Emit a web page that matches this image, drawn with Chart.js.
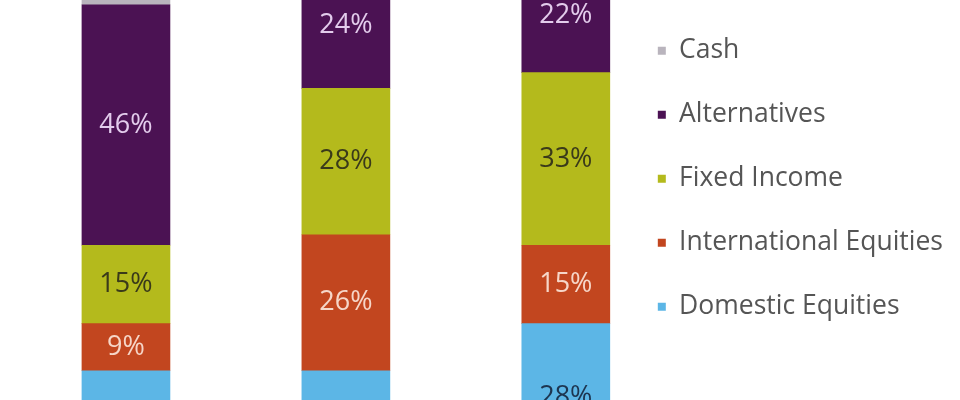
<!DOCTYPE html>
<html lang="en">
<head>
    <meta charset="UTF-8">
    <title>Asset Allocation</title>
    <script src="https://cdn.jsdelivr.net/npm/chart.js"></script>
    <style>
        body {
            margin: 0;
            background-color: #ffffff;
        }
        .container {
            width: 960px;
            height: 400px;
            position: relative;
        }
    </style>
</head>
<body>

    <div class="container">
        <canvas id="grafico"></canvas>
    </div>

    <script>
        // Portfolios (bars) and asset classes (stacked from the bottom up)
        const portfolios = ["Portfolio 1", "Portfolio 2", "Portfolio 3"];
        const domesticEquities = [19, 19, 28];
        const internationalEquities = [9, 26, 15];
        const fixedIncome = [15, 28, 33];
        const alternatives = [46, 24, 22];
        const cash = [11, 3, 2];

        const seriesNames = ["Domestic Equities", "International Equities", "Fixed Income", "Alternatives", "Cash"];
        const seriesValues = [domesticEquities, internationalEquities, fixedIncome, alternatives, cash];
        const seriesColors = ["#5cb6e6", "#c2461f", "#b4ba1c", "#4b1253", "#b9b4bd"];
        const labelColors = ["#1d3550", "#f6d6c8", "#3a3a1a", "#e3ccec", "#555555"];

        // percentage labels in the middle of each segment
        const segmentLabels = {
            id: "segmentLabels",
            afterDatasetsDraw(chart) {
                const ctx = chart.ctx;
                ctx.save();
                ctx.font = "27px 'Open Sans'";
                ctx.textAlign = "center";
                ctx.textBaseline = "middle";
                chart.data.datasets.forEach((ds, i) => {
                    chart.getDatasetMeta(i).data.forEach((bar, j) => {
                        ctx.fillStyle = labelColors[i];
                        ctx.fillText(seriesValues[i][j] + "%", bar.x, (bar.y + bar.base) / 2);
                    });
                });
                ctx.restore();
            }
        };

        let ctx = document.getElementById("grafico").getContext("2d");
        let grafico = new Chart(ctx, {
            type: "bar",
            data: {
                labels: portfolios,
                datasets: seriesNames.map((name, i) => ({
                    label: name,
                    data: seriesValues[i].map((v, j) => ({ x: j, y: v })),
                    backgroundColor: seriesColors[i],
                    borderWidth: 0,
                    barThickness: 88
                }))
            },
            options: {
                responsive: true,
                maintainAspectRatio: false,
                animation: false,
                layout: { padding: { top: 0, right: 7, bottom: 0, left: 0 } },
                scales: {
                    x: { type: "linear", stacked: true, display: false, offset: false, bounds: "data", min: -0.5727, max: 2.2478 },
                    y: { stacked: true, display: false, min: 13.4, max: 89.9 }
                },
                plugins: {
                    tooltip: { enabled: false },
                    legend: {
                        position: "right",
                        align: "start",
                        reverse: true,
                        labels: {
                            boxWidth: 8,
                            boxHeight: 8,
                            padding: 37.5,
                            color: "#555555",
                            font: { family: "'Open Sans'", size: 26.5 }
                        }
                    }
                }
            },
            plugins: [segmentLabels]
        });
    </script>

</body>
</html>
